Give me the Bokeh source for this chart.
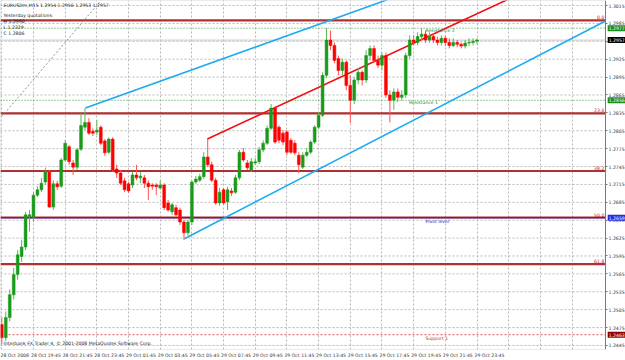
from bokeh.plotting import figure
from bokeh.models import FixedTicker, Range1d, Label, ColumnDataSource, BoxAnnotation
from bokeh.core.properties import value
from bokeh.embed import file_html
from bokeh.resources import INLINE

# ---------------- data (EURUSDm, M15) ----------------
x_tick_bars = [0, 8, 16, 24, 32, 40, 48, 56, 64, 72, 80, 88, 96, 104, 112, 120]
x_tick_labels = ["28 Oct 2008", "28 Oct 19:45", "28 Oct 21:45", "28 Oct 23:45",
                 "29 Oct 01:45", "29 Oct 03:45", "29 Oct 05:45", "29 Oct 07:45",
                 "29 Oct 09:45", "29 Oct 11:45", "29 Oct 13:45", "29 Oct 15:45",
                 "29 Oct 17:45", "29 Oct 19:45", "29 Oct 21:45", "29 Oct 23:45"]
grid_bars = [0, 8, 16, 24, 32, 40, 48, 56, 64, 72, 80, 88, 96, 104, 112, 120, 128, 136, 144]

y_ticks = [1.2445, 1.2475, 1.2505, 1.2535, 1.2565, 1.2595, 1.2625, 1.2655, 1.2685, 1.2715,
           1.2745, 1.2775, 1.2805, 1.2835, 1.2865, 1.2895, 1.2925, 1.2955, 1.2985, 1.3015]
y_tick_labels = ["1.2445", "1.2475", "1.2505", "1.2535", "1.2565", "1.2595", "1.2625", "1.2655",
                 "1.2685", "1.2715", "1.2745", "1.2775", "1.2805", "1.2835", "1.2865", "1.2895",
                 "1.2925", "1.2955", "1.2985", "1.3015"]

opens = [1.2480, 1.2458, 1.2492, 1.2530, 1.2564, 1.2594, 1.2610, 1.2661, 1.2659, 1.2697,
         1.2706, 1.2719, 1.2736, 1.2677, 1.2716, 1.2712, 1.2756, 1.2778, 1.2751, 1.2744,
         1.2774, 1.2811, 1.2819, 1.2804, 1.2803, 1.2811, 1.2788, 1.2769, 1.2791, 1.2741,
         1.2734, 1.2721, 1.2716, 1.2714, 1.2731, 1.2726, 1.2726, 1.2717, 1.2714, 1.2714,
         1.2709, 1.2714, 1.2684, 1.2669, 1.2676, 1.2672, 1.2652, 1.2634, 1.2652, 1.2719,
         1.2722, 1.2728, 1.2761, 1.2748, 1.2722, 1.2684, 1.2706, 1.2686, 1.2704, 1.2702,
         1.2726, 1.2769, 1.2751, 1.2739, 1.2751, 1.2753, 1.2773, 1.2784, 1.2809, 1.2843,
         1.2811, 1.2801, 1.2803, 1.2789, 1.2784, 1.2764, 1.2744, 1.2764, 1.2769, 1.2786,
         1.2811, 1.2831, 1.2898, 1.2957, 1.2948, 1.2926, 1.2906, 1.2920, 1.2881, 1.2856,
         1.2890, 1.2903, 1.2890, 1.2931, 1.2943, 1.2923, 1.2915, 1.2931, 1.2865, 1.2856,
         1.2870, 1.2861, 1.2865, 1.2931, 1.2957, 1.2953, 1.2963, 1.2967, 1.2957, 1.2963,
         1.2957, 1.2953, 1.2960, 1.2953, 1.2948, 1.2953, 1.2950, 1.2947, 1.2952, 1.2953,
         1.2955]
highs = [1.2492, 1.2502, 1.2539, 1.2575, 1.2605, 1.2622, 1.2669, 1.2672, 1.2702, 1.2712,
         1.2726, 1.2743, 1.2739, 1.2722, 1.2721, 1.2759, 1.2789, 1.2781, 1.2756, 1.2776,
         1.2834, 1.2843, 1.2826, 1.2809, 1.2823, 1.2814, 1.2791, 1.2794, 1.2794, 1.2748,
         1.2739, 1.2726, 1.2719, 1.2736, 1.2748, 1.2736, 1.2731, 1.2722, 1.2717, 1.2717,
         1.2722, 1.2717, 1.2689, 1.2684, 1.2681, 1.2676, 1.2656, 1.2656, 1.2722, 1.2729,
         1.2733, 1.2769, 1.2791, 1.2753, 1.2726, 1.2709, 1.2709, 1.2711, 1.2709, 1.2731,
         1.2773, 1.2776, 1.2756, 1.2759, 1.2759, 1.2778, 1.2789, 1.2814, 1.2850, 1.2846,
         1.2814, 1.2806, 1.2806, 1.2793, 1.2789, 1.2769, 1.2769, 1.2776, 1.2789, 1.2814,
         1.2836, 1.2903, 1.2977, 1.2973, 1.2953, 1.2931, 1.2926, 1.2923, 1.2898, 1.2895,
         1.2910, 1.2906, 1.2940, 1.2948, 1.2948, 1.2931, 1.2936, 1.2936, 1.2873, 1.2876,
         1.2876, 1.2873, 1.2936, 1.2965, 1.2965, 1.2970, 1.2977, 1.2973, 1.2970, 1.2968,
         1.2963, 1.2965, 1.2965, 1.2960, 1.2960, 1.2957, 1.2953, 1.2957, 1.2960, 1.2960,
         1.2960]
lows = [1.2447, 1.2452, 1.2485, 1.2522, 1.2555, 1.2585, 1.2605, 1.2636, 1.2652, 1.2694,
        1.2702, 1.2714, 1.2676, 1.2672, 1.2706, 1.2709, 1.2753, 1.2748, 1.2731, 1.2739,
        1.2771, 1.2806, 1.2798, 1.2796, 1.2798, 1.2781, 1.2763, 1.2766, 1.2736, 1.2726,
        1.2714, 1.2702, 1.2701, 1.2709, 1.2722, 1.2717, 1.2709, 1.2689, 1.2706, 1.2697,
        1.2706, 1.2672, 1.2669, 1.2664, 1.2661, 1.2647, 1.2622, 1.2629, 1.2647, 1.2716,
        1.2719, 1.2724, 1.2744, 1.2719, 1.2681, 1.2679, 1.2681, 1.2672, 1.2696, 1.2699,
        1.2722, 1.2753, 1.2739, 1.2736, 1.2748, 1.2749, 1.2769, 1.2781, 1.2806, 1.2783,
        1.2784, 1.2781, 1.2764, 1.2766, 1.2764, 1.2734, 1.2741, 1.2761, 1.2766, 1.2783,
        1.2808, 1.2828, 1.2893, 1.2940, 1.2918, 1.2898, 1.2898, 1.2873, 1.2818, 1.2850,
        1.2883, 1.2881, 1.2885, 1.2923, 1.2920, 1.2910, 1.2906, 1.2860, 1.2819, 1.2840,
        1.2853, 1.2856, 1.2860, 1.2926, 1.2948, 1.2948, 1.2957, 1.2952, 1.2953, 1.2952,
        1.2948, 1.2948, 1.2947, 1.2943, 1.2945, 1.2945, 1.2943, 1.2943, 1.2947, 1.2948,
        1.2950]
closes = [1.2458, 1.2492, 1.2530, 1.2564, 1.2597, 1.2610, 1.2664, 1.2664, 1.2697, 1.2706,
          1.2717, 1.2736, 1.2677, 1.2716, 1.2711, 1.2756, 1.2784, 1.2753, 1.2744, 1.2773,
          1.2814, 1.2819, 1.2801, 1.2801, 1.2806, 1.2784, 1.2768, 1.2791, 1.2739, 1.2734,
          1.2717, 1.2706, 1.2704, 1.2731, 1.2726, 1.2729, 1.2717, 1.2711, 1.2712, 1.2711,
          1.2714, 1.2676, 1.2672, 1.2681, 1.2664, 1.2652, 1.2634, 1.2652, 1.2719, 1.2724,
          1.2728, 1.2761, 1.2748, 1.2722, 1.2684, 1.2702, 1.2684, 1.2706, 1.2701, 1.2726,
          1.2769, 1.2756, 1.2743, 1.2753, 1.2753, 1.2773, 1.2784, 1.2809, 1.2843, 1.2786,
          1.2789, 1.2786, 1.2769, 1.2769, 1.2768, 1.2748, 1.2764, 1.2769, 1.2786, 1.2811,
          1.2831, 1.2898, 1.2957, 1.2948, 1.2923, 1.2906, 1.2920, 1.2881, 1.2856, 1.2890,
          1.2903, 1.2890, 1.2931, 1.2943, 1.2923, 1.2915, 1.2931, 1.2865, 1.2856, 1.2870,
          1.2861, 1.2865, 1.2931, 1.2957, 1.2953, 1.2963, 1.2967, 1.2957, 1.2963, 1.2957,
          1.2953, 1.2960, 1.2953, 1.2948, 1.2953, 1.2950, 1.2947, 1.2952, 1.2953, 1.2955,
          1.2957]

# yesterday quotations / fibo / pivot levels
yest_high, yest_low, yest_close = 1.2990, 1.2329, 1.2806
fibo_ratios = [0.0, 23.6, 38.2, 50.0, 61.8]
fibo_names = ["0.0", "23.6", "38.2", "50.0", "61.8"]
resistance2 = 1.2977
resistance1 = 1.2856
pivot_level = 1.2659
support1 = 1.2463
last_bid = 1.2957

# trend lines: (bar index, price) anchor pairs
up_line_x, up_line_y = [21.1, 100.0], [1.2843, 1.3031]
low_line_x, low_line_y = [46.1, 152.45], [1.2624, 1.2989]
red_line_x, red_line_y = [51.9, 130.0], [1.2791, 1.3032]
gray_line_x, gray_line_y = [0.0, 25.0], [1.2829, 1.3023]

# ---------------- figure ----------------
FONT = "DejaVu Sans"
FS = "4.6px"
X_LO, X_EDGE, X_HI = -0.33, 152.45, 157.5   # bar-index range; X_EDGE = chart border
Y_LO, Y_HI = 1.24382, 1.30234

p = figure(width=625, height=360, output_backend="svg", toolbar_location=None,
           x_range=Range1d(X_LO, X_HI), y_range=Range1d(Y_LO, Y_HI),
           y_axis_location="right", min_border_left=0, min_border_top=0,
           min_border_right=0, min_border_bottom=0)
p.background_fill_color = "white"
p.border_fill_color = "white"
p.outline_line_color = None

# axes
p.xaxis.ticker = FixedTicker(ticks=[b + 3.15 for b in x_tick_bars])
p.xaxis.major_label_overrides = {b + 3.15: t for b, t in zip(x_tick_bars, x_tick_labels)}
p.yaxis.ticker = FixedTicker(ticks=y_ticks)
p.yaxis.major_label_overrides = {v: t for v, t in zip(y_ticks, y_tick_labels)}
p.yaxis.fixed_location = X_EDGE
for ax in (p.xaxis[0], p.yaxis[0]):
    ax.major_label_text_font = FONT
    ax.major_label_text_font_size = FS
    ax.major_label_text_color = "#333333"
    ax.axis_line_color = "#7a7a7a"
    ax.major_tick_line_color = "#7a7a7a"
    ax.minor_tick_line_color = None
    ax.major_tick_in = 0
    ax.major_tick_out = 2
    ax.major_label_standoff = 1
p.xaxis.major_tick_line_color = None
p.xaxis.axis_line_color = None

p.xgrid.ticker = FixedTicker(ticks=grid_bars)
p.xgrid.grid_line_color = "#b8b8b8"
p.xgrid.grid_line_dash = "2 2"
p.ygrid.grid_line_color = None
p.segment(x0=[X_LO] * len(y_ticks), y0=y_ticks, x1=[X_EDGE] * len(y_ticks), y1=y_ticks,
          line_color="#b8b8b8", line_dash="2 2", line_width=1)

# chart border
p.add_layout(BoxAnnotation(left=X_LO, right=X_EDGE, bottom=Y_LO, top=Y_HI,
                           fill_color=None, line_color="#7a7a7a", line_width=1))

# level lines
rng = yest_high - yest_low
fibo_prices = [yest_high - r / 100.0 * rng for r in fibo_ratios]
for fp, name in zip(fibo_prices, fibo_names):
    p.line([X_LO, X_EDGE], [fp, fp], line_color="#b03030", line_width=2.2)
    p.text([X_EDGE - 0.3], [fp], text=[name], text_font=value(FONT), text_font_size=FS,
           text_color="#cc2020", text_align="right", text_baseline="bottom", y_offset=-1)
p.line([X_LO, X_EDGE], [pivot_level, pivot_level], line_color="#2020c0", line_width=1)
p.line([X_LO, X_EDGE], [resistance2, resistance2], line_color="#3a9a3a", line_width=1, line_dash="1 2")
p.line([X_LO, X_EDGE], [resistance1, resistance1], line_color="#3a9a3a", line_width=1, line_dash="1 2")
p.line([X_LO, X_EDGE], [support1, support1], line_color="#e05050", line_width=1, line_dash="2 2")
p.line([X_LO, X_EDGE], [last_bid, last_bid], line_color="#c8c8c8", line_width=1)

# trend lines
p.line(gray_line_x, gray_line_y, line_color="#909090", line_width=1, line_dash="2 2")
p.line(up_line_x, up_line_y, line_color="#1eaaf0", line_width=1.6)
p.line(low_line_x, low_line_y, line_color="#1eaaf0", line_width=1.6)
p.line(red_line_x, red_line_y, line_color="#f01010", line_width=1.6)

# candles
idx = list(range(len(opens)))
colors = ["#1a9a1a" if c >= o else "#ff0000" for o, c in zip(opens, closes)]
wick_colors = ["#58b858" if c >= o else "#ff5050" for o, c in zip(opens, closes)]
src = ColumnDataSource(dict(x=idx, o=opens, h=highs, l=lows, c=closes,
                            top=[max(o, c) for o, c in zip(opens, closes)],
                            bot=[min(o, c) for o, c in zip(opens, closes)],
                            col=colors, wcol=wick_colors))
p.segment(x0="x", y0="h", x1="x", y1="l", source=src, line_color="wcol", line_width=1)
p.vbar(x="x", top="top", bottom="bot", width=0.72, source=src,
       fill_color="col", line_color="col", line_width=0.5)

# pivot texts
p.text([102.8], [resistance1], text=["Resistance 1"], text_font=value(FONT), text_font_size=FS,
       text_color="#2a8a2a", text_baseline="top", y_offset=0)
p.text([107.0], [resistance2], text=["Resistance 2"], text_font=value(FONT), text_font_size=FS,
       text_color="#2a8a2a", text_baseline="top", y_offset=0)
p.text([107.0], [pivot_level], text=["Pivot level"], text_font=value(FONT), text_font_size=FS,
       text_color="#2020c0", text_baseline="top", y_offset=1)
p.text([107.0], [support1], text=["Support 1"], text_font=value(FONT), text_font_size=FS,
       text_color="#c03030", text_baseline="top", y_offset=1)

# header texts
hdr = [("EURUSDm,M15  %.4f %.4f %.4f %.4f" % (1.2954, 1.2956, 1.2953, last_bid), 1.3015),
       ("Yesterday quotations:", 1.2998),
       ("H %.4f" % yest_high, 1.2988),
       ("L %.4f" % yest_low, 1.2978),
       ("C %.4f" % yest_close, 1.2968)]
for t, yy in hdr:
    p.add_layout(Label(x=0.45, y=yy, text=t, text_font=FONT, text_font_size=FS,
                       text_color="#222222", text_baseline="middle"))
p.add_layout(Label(x=0.45, y=1.2448, text="Interbank FX Trader 4, \u00a9 2001-2008 MetaQuotes Software Corp.",
                   text_font=FONT, text_font_size=FS, text_color="#222222", text_baseline="middle"))

# price boxes on the right scale
for pr, bg in [(resistance2, "#1e8c1e"), (last_bid, "#000000"), (resistance1, "#1e8c1e"),
               (pivot_level, "#1f2ee0"), (support1, "#8b0000")]:
    p.add_layout(Label(x=X_EDGE + 0.55, y=pr, text="%.4f" % pr, text_font=FONT, text_font_size=FS,
                       text_color="white", text_baseline="middle", background_fill_color=bg,
                       padding=1))

open("out.html", "w").write(file_html(p, INLINE))
